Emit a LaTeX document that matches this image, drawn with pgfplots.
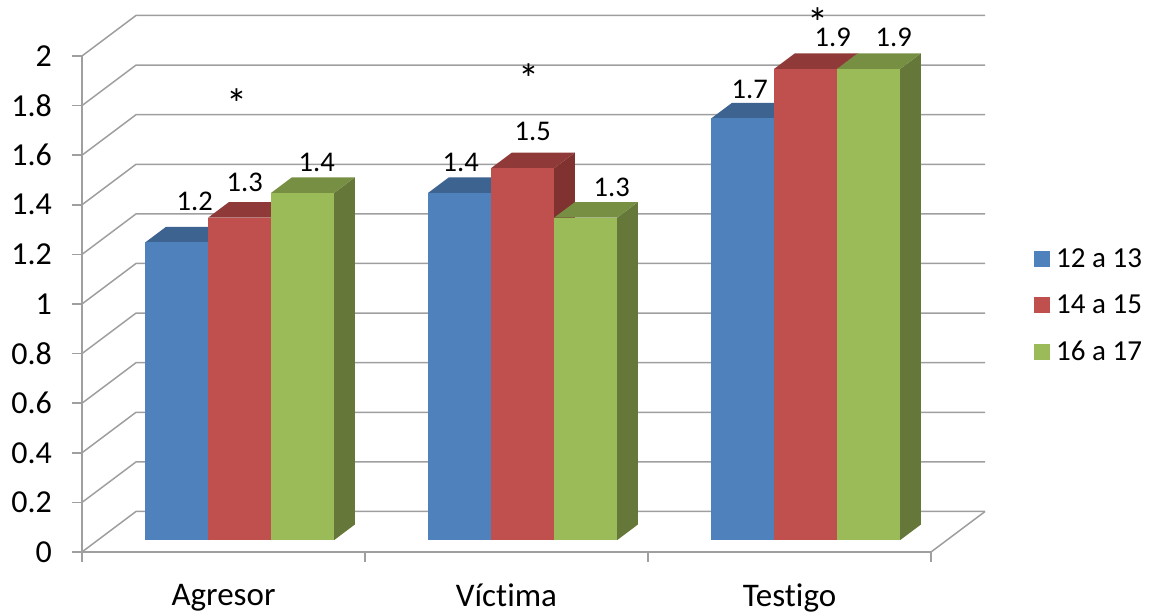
\documentclass[border=0pt]{standalone}
\usepackage{pgfplots}
\pgfplotsset{compat=1.18}
\usepackage{fontspec}
\setmainfont{Carlito}[Ligatures=NoCommon]

\definecolor{gridgrey}{HTML}{9F9F9F}
\definecolor{blueF}{HTML}{4F81BD}
\definecolor{blueT}{HTML}{3D6391}
\definecolor{blueS}{HTML}{35567E}
\definecolor{redF}{HTML}{C0504D}
\definecolor{redT}{HTML}{8F3A38}
\definecolor{redS}{HTML}{7F3230}
\definecolor{greenF}{HTML}{9BBB59}
\definecolor{greenT}{HTML}{778F43}
\definecolor{greenS}{HTML}{667839}

% Oblique projection: one unit of depth moves a point by (kx, ky) in axis units
\newcommand{\kx}{0.1908}
\newcommand{\ky}{0.1633}
% Depth range occupied by the bars, and the width of one bar in axis units
\newcommand{\dA}{0.296}
\newcommand{\dB}{0.679}
\newcommand{\bw}{0.2226}

% One value level: line on the side wall, then along the back wall
\newcommand{\level}[1]{%
  \addplot[forget plot, draw=gridgrey, line width=1.5pt] coordinates
    {(0,#1) (\kx,#1+\ky) (3+\kx,#1+\ky)};%
}

% \drawbar{left x at depth 0}{value}{front}{top}{side}{label dx}{label dy}
\newcommand{\drawbar}[7]{%
  \pgfmathsetmacro\xL{#1+\dA*\kx}%
  \pgfmathsetmacro\xR{\xL+\bw}%
  \pgfmathsetmacro\sx{(\dB-\dA)*\kx}%
  \pgfmathsetmacro\sy{(\dB-\dA)*\ky}%
  \pgfmathsetmacro\yB{\dA*\ky}%
  \pgfmathsetmacro\yT{#2+\dA*\ky}%
  \pgfmathsetmacro\xLb{\xL+\sx}%
  \pgfmathsetmacro\xRb{\xR+\sx}%
  \pgfmathsetmacro\yBb{\yB+\sy}%
  \pgfmathsetmacro\yTb{\yT+\sy}%
  \pgfmathsetmacro\xC{\xL+0.5*\bw}%
  \addplot[forget plot, fill=#5, draw=none] coordinates
    {(\xR,\yB) (\xRb,\yBb) (\xRb,\yTb) (\xR,\yT)} -- cycle;%
  \addplot[forget plot, fill=#4, draw=none] coordinates
    {(\xL,\yT) (\xR,\yT) (\xRb,\yTb) (\xLb,\yTb)} -- cycle;%
  \addplot[forget plot, fill=#3, draw=none] coordinates
    {(\xL,\yB) (\xR,\yB) (\xR,\yT) (\xL,\yT)} -- cycle;%
  \edef\barlabel{\noexpand\node[font=\noexpand\datafont, inner sep=0pt]
    at (axis cs:\xC,\yT) [xshift=#6pt, yshift=#7pt] {#2};}%
  \barlabel
}
\newcommand{\datafont}{\fontsize{28.5}{33}\selectfont}
\newcommand{\starfont}{\fontsize{42}{48}\selectfont}

\begin{document}
\begin{tikzpicture}
\begin{axis}[
  at={(0pt,0pt)}, anchor=origin,
  scale only axis,
  x=283pt, y=248pt,
  xmin=0, xmax=3, ymin=0, ymax=2,
  clip=false,
  axis lines*=left,
  axis line style={-, draw=gridgrey, line width=1.5pt},
  /pgf/number format/assume math mode=true,
  tick align=outside,
  major tick length=10pt,
  minor tick length=10pt,
  tick style={draw=gridgrey, line width=1.5pt},
  xtick={0.5,1.5,2.5},
  xticklabels={Agresor,Víctima,Testigo},
  minor xtick={0,1,2,3},
  x tick style={draw=none},
  minor x tick style={draw=gridgrey, line width=1.5pt},
  ytick={0,0.2,0.4,0.6,0.8,1,1.2,1.4,1.6,1.8,2},
  yticklabel style={font=\fontsize{32}{37}\selectfont, xshift=-16.5pt},
  xticklabel style={font=\fontsize{33}{38}\selectfont, yshift=-18.5pt},
  legend cell align=left,
  legend style={
    at={(axis cs:3.364,1.232)}, anchor=north west,
    draw=none, fill=none,
    font=\fontsize{29}{34}\selectfont,
    row sep=22pt,
    inner sep=0pt,
  },
  legend image code/.code={
    \fill[#1, draw=none] (0pt,-8pt) rectangle (16pt,8pt);
    \path[draw=none, fill=none] (0pt,0pt) -- (20pt,0pt);
  },
]
  % walls
  \level{0}\level{0.2}\level{0.4}\level{0.6}\level{0.8}\level{1}
  \level{1.2}\level{1.4}\level{1.6}\level{1.8}\level{2}
  % right edge of the floor
  \addplot[forget plot, draw=gridgrey, line width=1.5pt] coordinates
    {(3,0) (3+\kx,\ky)};

  % Agresor
  \drawbar{0.167}{1.2}{blueF}{blueT}{blueS}{18}{41}
  \drawbar{0.3896}{1.3}{redF}{redT}{redS}{5}{35}
  \drawbar{0.6122}{1.4}{greenF}{greenT}{greenS}{14}{30}
  % Víctima
  \drawbar{1.167}{1.4}{blueF}{blueT}{blueS}{1}{30}
  \drawbar{1.3896}{1.5}{redF}{redT}{redS}{10}{37}
  \drawbar{1.6122}{1.3}{greenF}{greenT}{greenS}{26}{30}
  % Testigo
  \drawbar{2.167}{1.7}{blueF}{blueT}{blueS}{7}{29}
  \drawbar{2.3896}{1.9}{redF}{redT}{redS}{27}{31}
  \drawbar{2.6122}{1.9}{greenF}{greenT}{greenS}{25}{31}

  % significance marks
  \node[font=\starfont, inner sep=0pt] at (axis cs:0.548,1.808) {*};
  \node[font=\starfont, inner sep=0pt] at (axis cs:1.580,1.908) {*};
  \node[font=\starfont, inner sep=0pt] at (axis cs:2.601,2.133) {*};

  \addlegendimage{fill=blueF}
  \addlegendimage{fill=redF}
  \addlegendimage{fill=greenF}
  \legend{12 a 13,14 a 15,16 a 17}
\end{axis}
% page frame
\path (-82pt,-61pt) rectangle (1069pt,552pt);
\end{tikzpicture}
\end{document}
